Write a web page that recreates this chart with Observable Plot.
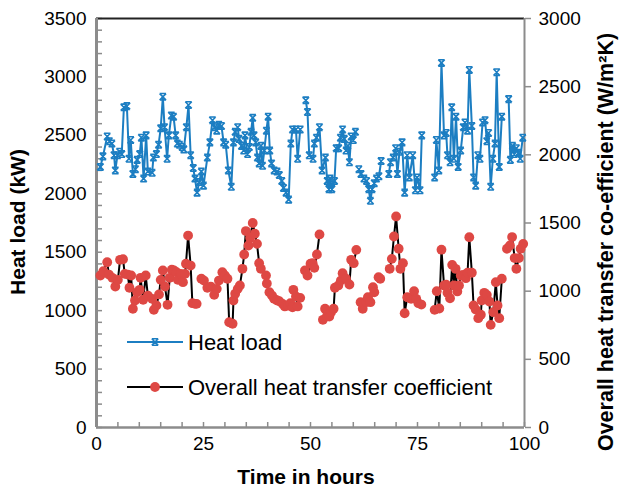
<!DOCTYPE html>
<html><head><meta charset="utf-8">
<script src="https://cdn.jsdelivr.net/npm/d3@7"></script>
<script src="https://cdn.jsdelivr.net/npm/@observablehq/plot@0.6"></script>
<style>body{margin:0;background:#fff;} svg{display:block}</style>
</head><body><div id="chart"></div>
<script>
// Heat load (kW) vs time (h); null = gap in the series
const heatTime = [0.9,1.5,2.5,3.0,3.6,4.1,4.4,4.9,5.4,5.9,6.4,7.1,7.6,8.0,8.5,9.1,9.5,10.1,10.5,11.0,11.6,12.0,13.0,13.3,14.0,14.5,15.0,15.5,15.9,16.5,16.9,17.5,18.0,18.5,18.9,19.4,20.0,20.4,21.0,21.5,22.0,22.6,23.0,23.5,24.0,24.5,25.0,25.9,26.5,27.1,27.6,28.1,28.6,29.2,29.7,30.2,30.8,31.5,32.0,32.4,33.0,33.3,33.9,34.4,34.7,35.3,35.7,36.1,36.5,36.8,37.2,37.6,38.0,38.4,38.8,39.2,39.7,40.1,40.5,40.9,41.5,42.2,42.7,43.3,43.7,44.3,44.9,45.4,45.8,46.6,47.0,47.6,null,48.9,49.3,49.7,50.6,50.9,51.4,52.1,52.7,53.5,53.9,54.3,54.6,55.0,55.6,56.0,56.6,57.0,57.5,57.9,58.3,58.7,59.1,59.5,60.0,60.5,null,61.3,61.8,62.5,63.1,63.6,64.0,64.4,64.9,65.4,66.0,66.5,null,68.3,68.7,69.3,69.9,70.3,70.8,71.4,72.0,72.6,73.1,73.9,74.5,74.9,75.6,76.0,null,79.0,79.4,80.0,80.6,81.2,81.7,82.0,82.6,83.0,83.5,84.0,84.5,85.1,85.7,86.1,86.7,87.1,87.7,88.1,88.6,89.1,89.6,90.2,90.8,91.2,91.6,92.1,92.6,93.1,93.5,94.1,94.7,null,96.3,96.7,97.2,97.6,98.1,98.6,99.0,99.6];
const heatLoad = [2230,2320,2490,2450,2430,2330,2200,2330,2360,2340,2740,2750,2300,2460,2170,2210,2290,2340,2480,2130,2500,2190,2180,2310,2340,2420,2560,2830,2570,2300,2500,2670,2660,2500,2430,2420,2400,2380,2570,2760,2330,2220,2130,2010,2100,2190,2070,2310,2440,2630,2570,2540,2590,2580,2440,2420,2200,2060,2440,2530,2570,2470,2410,2370,2500,2340,2400,2530,2650,2500,2440,2310,2260,2410,2240,2370,2540,2660,2370,2260,2200,2190,2160,2110,2050,2010,1950,2430,2550,2550,2300,2550,null,2800,2700,2330,2300,2430,2480,2570,2200,2310,2110,2040,2130,2040,2110,2390,2390,2480,2550,2470,2370,2410,2270,2490,2460,2530,null,2210,2170,2130,2110,2040,1940,2040,2090,2130,2150,2280,null,2170,2270,2310,2390,2170,2360,2440,2010,2330,2140,2330,2030,2140,2030,2500,null,2140,2460,2200,3120,2500,2520,2330,2270,2740,2300,2660,2230,2370,2570,2610,2540,3060,2580,2140,2070,2330,2300,2610,2630,2450,2520,2060,2300,2430,3040,2230,2660,null,2810,2290,2410,2340,2390,2350,2300,2480];

// Overall heat transfer co-efficient (W/m²K) vs time (h)
const coefTime = [0.9,1.6,2.5,2.9,3.7,4.4,5.0,5.5,6.2,6.6,7.3,7.7,8.1,8.5,9.0,9.5,10.1,10.3,10.9,11.5,12.0,13.0,13.4,14.0,14.6,15.0,15.5,16.0,16.6,17.1,17.6,18.1,18.7,19.0,19.7,20.2,20.7,20.9,21.4,22.0,22.4,23.0,23.4,null,24.5,25.1,25.9,26.7,27.5,28.1,28.6,29.4,30.0,30.6,31.0,31.8,32.0,32.4,33.0,33.5,34.1,34.5,34.9,35.5,35.9,36.5,37.0,37.5,38.0,38.4,39.6,39.8,40.4,41.0,41.5,42.2,42.7,43.5,44.0,44.8,45.3,45.8,46.0,46.6,47.0,47.6,null,48.7,49.3,50.0,50.5,50.9,51.5,52.1,null,52.9,53.4,53.9,54.4,54.8,55.4,55.7,56.5,57.1,57.5,58.3,59.1,59.5,60.1,60.7,null,61.7,62.2,63.0,63.4,64.0,64.6,64.9,null,65.9,66.3,null,68.5,69.0,69.5,70.0,70.6,71.0,71.6,72.0,72.6,73.1,73.5,74.2,74.7,75.2,75.9,null,79.0,79.5,80.1,80.6,81.2,81.7,82.0,82.6,83.1,83.5,83.9,84.3,84.7,85.1,85.7,86.3,86.7,87.1,87.7,88.1,88.6,89.2,89.8,90.0,90.6,91.2,91.8,92.1,92.7,93.3,93.7,94.1,94.7,null,95.9,96.6,97.1,97.7,98.1,98.7,99.1,99.7];
const coefValue = [1115,1146,1212,1122,1098,1034,1083,1230,1234,1127,1122,1025,1115,871,932,992,1010,1098,937,1115,968,944,863,895,976,1083,1152,1034,900,1098,1157,1152,1139,1083,1127,1066,1127,1201,1408,1188,912,907,907,null,1091,1078,1025,1034,973,1017,1078,1139,1115,1091,772,761,932,981,1017,1042,1164,1269,1441,1335,1391,1500,1421,1347,1205,1164,1115,1056,992,968,944,932,926,907,888,895,912,882,1010,961,888,951,null,1152,1115,1201,1205,1171,1269,1416,null,790,871,822,814,846,871,1025,1042,1078,1132,1091,1049,1230,1205,1303,null,919,871,919,956,919,1029,992,null,1102,1091,null,1164,1237,1401,1548,1311,1164,1205,838,956,951,944,1000,944,912,902,null,863,1000,873,1304,1042,1047,988,948,1193,1042,1164,998,1042,1115,1120,1095,1135,1396,1135,895,866,802,827,932,988,973,924,753,846,1066,895,802,1091,null,1311,1335,1397,1243,1164,1243,1311,1347];

const xTicks = [0,25,50,75,100];
const leftTicks = [0,500,1000,1500,2000,2500,3000,3500];
const rightTicks = [0,500,1000,1500,2000,2500,3000];

const leftMax = 3500, rightMax = 3000;
const k = leftMax / rightMax;

const blue = "#1c7ec2", red = "#de4844", grey = "#8c8c8c";

const heat = heatTime.map((t, i) => ({t, v: heatLoad[i]}));
const coef = coefTime.map((t, i) => ({t, v: coefValue[i] == null ? null : coefValue[i] * k}));

const hourglass = {
  draw(ctx, size) {
    const s = Math.sqrt(size) / 2.2;
    ctx.moveTo(-s, -s); ctx.lineTo(s, s);
    ctx.moveTo(s, -s); ctx.lineTo(-s, s);
    ctx.moveTo(-s, -s); ctx.lineTo(s, -s);
    ctx.moveTo(-s, s); ctx.lineTo(s, s);
  }
};

const W = 621, H = 491;
const svg = Plot.plot({
  width: W, height: H,
  marginLeft: 96, marginRight: 97, marginTop: 18, marginBottom: 64,
  style: {fontFamily: "'Liberation Sans', Arial, sans-serif", fontSize: "19px", color: "black", background: "white"},
  x: {domain: [0, 100]},
  y: {domain: [0, leftMax]},
  marks: [
    Plot.axisY(leftTicks, {anchor: "left", tickSize: 0, tickPadding: 10, tickFormat: d => String(d), label: null}),
    Plot.axisY(d3.range(0, 3501, 100), {anchor: "left", tickSize: 6, dx: 6, fill: "none", stroke: grey, strokeWidth: 1.5, label: null}),
    Plot.axisY(rightTicks.map(v => v * k), {anchor: "right", tickSize: 6, tickPadding: 8, stroke: grey, strokeWidth: 1.5, fill: "black", tickFormat: d => String(Math.round(d / k)), label: null}),
    Plot.axisX(xTicks, {anchor: "bottom", tickSize: 0, tickPadding: 9, tickFormat: d => String(d), label: null}),
    Plot.axisX(d3.range(0, 101, 5), {anchor: "bottom", tickSize: 5, dy: -5, fill: "none", stroke: grey, strokeWidth: 1.5, label: null}),
    Plot.ruleY([leftMax], {stroke: "#222", strokeWidth: 2}),
    Plot.ruleX([100], {stroke: grey, strokeWidth: 2}),
    Plot.ruleY([0], {stroke: grey, strokeWidth: 2.5}),
    Plot.ruleX([0], {stroke: grey, strokeWidth: 3}),
    Plot.line(heat, {x: "t", y: "v", stroke: blue, strokeWidth: 2}),
    Plot.dot(heat, {x: "t", y: "v", symbol: hourglass, r: 4, stroke: blue, strokeWidth: 1.6, fill: "none"}),
    Plot.line(coef, {x: "t", y: "v", stroke: "black", strokeWidth: 2}),
    Plot.dot(coef, {x: "t", y: "v", r: 4.9, fill: red, stroke: "none"})
  ]
});
document.getElementById("chart").appendChild(svg);

const s = d3.select(svg);
const font = "'Liberation Sans', Arial, sans-serif";
// axis titles
s.append("text").attr("transform", "translate(18,222) rotate(-90)").attr("text-anchor", "middle").attr("dy", "0.35em")
  .attr("font-family", font).attr("font-size", 21).attr("font-weight", "bold").attr("fill", "black").text("Heat load (kW)");
s.append("text").attr("transform", "translate(605,242) rotate(-90)").attr("text-anchor", "middle").attr("dy", "0.35em")
  .attr("font-family", font).attr("font-size", 21.5).attr("font-weight", "bold").attr("fill", "black").text("Overall heat transfer co-efficient (W/m²K)");
s.append("text").attr("x", 306).attr("y", 477).attr("text-anchor", "middle").attr("dy", "0.35em")
  .attr("font-family", font).attr("font-size", 21).attr("font-weight", "bold").attr("fill", "black").text("Time in hours");

// legend
const lg = s.append("g").attr("text-anchor", "start");
lg.append("line").attr("x1", 127).attr("x2", 183).attr("y1", 342).attr("y2", 342).attr("stroke", blue).attr("stroke-width", 2);
lg.append("path").attr("transform", "translate(155,342)").attr("d", "M-3.2,-3.2L3.2,3.2M3.2,-3.2L-3.2,3.2M-3.2,-3.2L3.2,-3.2M-3.2,3.2L3.2,3.2")
  .attr("stroke", blue).attr("stroke-width", 1.6).attr("fill", "none");
lg.append("text").attr("x", 188).attr("y", 342).attr("dy", "0.35em").attr("text-anchor", "start").attr("font-family", font).attr("font-size", 22).attr("fill", "black").text("Heat load");
lg.append("line").attr("x1", 127).attr("x2", 183).attr("y1", 387).attr("y2", 387).attr("stroke", "black").attr("stroke-width", 2);
lg.append("circle").attr("cx", 155).attr("cy", 387).attr("r", 4.9).attr("fill", red);
lg.append("text").attr("x", 188).attr("y", 387).attr("dy", "0.35em").attr("text-anchor", "start").attr("font-family", font).attr("font-size", 22).attr("fill", "black").text("Overall heat transfer coefficient");
</script>
</body></html>
